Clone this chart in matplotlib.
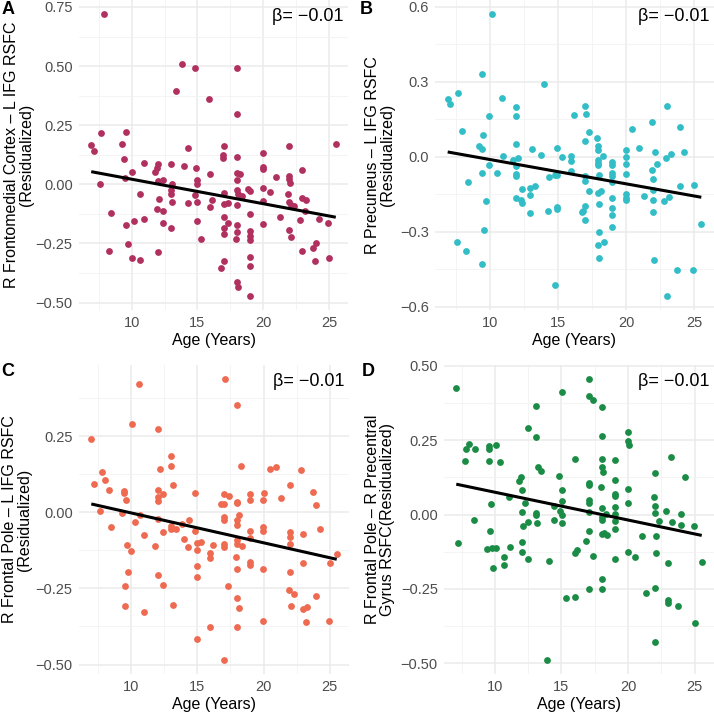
import numpy as np
import matplotlib
matplotlib.use("Agg")
import matplotlib.pyplot as plt

plt.rcParams['font.family'] = ['Liberation Sans', 'DejaVu Sans']

# ---------------- data (age, residualized RSFC) ----------------
points_a = [(7.93,0.72),(6.93,0.167),(7.13,0.141),(7.7,0.219),(7.6,0.0),(8.4,-0.123),(8.3,-0.28),(9.27,0.171),(9.55,0.22),(9.4,0.107),(9.47,0.028),(10.0,0.052),(9.6,-0.174),(9.7,-0.254),(10.0,-0.312),(10.2,-0.157),(10.6,-0.042),(10.6,-0.319),(10.96,-0.145),(10.96,0.09),(11.8,0.054),(11.9,0.068),(12.0,0.086),(12.0,0.014),(12.1,-0.064),(11.96,-0.106),(12.4,0.017),(12.37,-0.114),(12.37,-0.164),(12.0,-0.288),(12.97,0.085),(12.97,-0.023),(12.97,-0.042),(13.1,0.003),(13.1,-0.075),(12.97,-0.184),(13.4,0.394),(13.8,0.508),(13.95,0.078),(14.3,0.154),(14.3,-0.078),(14.8,0.49),(14.9,0.068),(14.96,0.017),(14.96,0.003),(14.84,-0.044),(14.96,-0.075),(14.96,-0.154),(15.26,-0.233),(15.9,0.359),(15.94,0.042),(16.1,-0.066),(15.94,-0.097),(16.78,-0.352),(16.98,-0.323),(17.05,0.16),(16.95,0.124),(16.95,0.113),(17.0,-0.035),(17.0,-0.083),(17.05,-0.138),(17.0,-0.184),(17.0,-0.21),(17.33,-0.08),(17.33,-0.162),(17.98,0.493),(17.98,0.298),(17.98,0.117),(17.98,0.049),(17.98,0.017),(18.2,0.044),(18.0,-0.025),(18.1,-0.04),(17.98,-0.086),(17.98,-0.174),(17.98,-0.2),(17.9,-0.232),(18.36,-0.049),(18.87,-0.02),(19.0,-0.03),(19.0,-0.124),(19.0,-0.198),(19.0,-0.217),(19.0,-0.236),(19.0,-0.306),(19.0,-0.345),(17.98,-0.412),(18.1,-0.436),(19.0,-0.472),(19.95,0.131),(19.95,0.075),(19.95,0.064),(19.95,-0.017),(19.95,-0.072),(20.0,-0.169),(20.48,-0.032),(20.96,0.032),(21.3,-0.137),(21.96,0.16),(21.96,0.037),(21.96,0.023),(22.0,0.004),(21.9,-0.041),(21.94,-0.076),(22.1,-0.086),(22.34,-0.09),(21.96,-0.193),(22.1,-0.223),(22.97,0.062),(22.95,-0.058),(23.27,-0.066),(23.15,-0.112),(22.8,-0.153),(22.97,-0.28),(23.98,-0.249),(23.75,-0.268),(23.9,-0.325),(24.23,-0.147),(24.9,-0.162),(24.98,-0.311),(25.5,0.171)]

points_b = [(6.89,0.23),(7.08,0.212),(7.67,0.253),(7.92,0.102),(7.6,-0.341),(8.26,-0.376),(8.36,-0.103),(9.41,0.331),(9.22,0.044),(9.41,0.031),(9.51,0.087),(9.39,-0.066),(9.68,-0.176),(9.58,-0.292),(9.39,-0.43),(9.93,0.161),(9.93,-0.032),(10.17,0.57),(10.51,-0.065),(10.9,0.235),(10.93,0.004),(11.91,0.198),(11.94,0.164),(11.91,0.051),(11.72,-0.013),(12.08,-0.007),(11.91,-0.036),(11.91,-0.069),(11.94,-0.079),(11.94,-0.164),(12.25,-0.173),(12.38,-0.187),(12.38,-0.13),(12.94,-0.125),(12.92,-0.153),(12.94,-0.224),(13.11,0.031),(13.33,-0.116),(13.75,0.007),(13.95,0.29),(14.29,-0.218),(14.34,-0.082),(14.78,-0.075),(14.9,0.035),(14.93,-0.075),(14.93,-0.2),(14.93,-0.21),(14.78,-0.515),(15.25,-0.003),(15.96,0.004),(15.96,-0.016),(15.96,-0.056),(16.13,0.167),(16.74,-0.223),(16.86,-0.218),(16.96,0.202),(17.01,0.172),(16.94,0.062),(16.96,-0.079),(16.96,-0.098),(16.96,-0.196),(16.96,-0.255),(17.3,0.097),(17.28,-0.136),(17.84,0.075),(17.92,0.043),(17.92,0.027),(17.92,-0.013),(17.92,-0.027),(17.92,-0.034),(18.01,-0.075),(17.89,-0.144),(18.16,-0.137),(17.97,-0.191),(17.97,-0.301),(17.92,-0.355),(18.36,-0.341),(17.97,-0.406),(18.26,0.001),(18.97,-0.022),(18.97,-0.034),(18.97,-0.065),(18.97,-0.077),(18.97,-0.102),(18.97,-0.165),(18.97,-0.204),(18.97,-0.235),(18.97,-0.282),(19.95,0.028),(19.95,-0.001),(19.95,-0.03),(19.95,-0.07),(19.95,-0.151),(19.95,-0.164),(19.95,-0.173),(20.44,0.11),(20.96,0.036),(21.27,-0.156),(21.89,0.137),(22.08,0.02),(21.86,-0.054),(21.96,-0.089),(22.28,-0.031),(21.94,-0.134),(21.96,-0.173),(21.96,-0.223),(22.03,-0.413),(22.79,-0.176),(22.97,0.203),(22.94,-0.005),(23.28,0.009),(23.16,-0.163),(22.97,-0.557),(23.95,0.12),(24.24,0.019),(23.92,-0.117),(23.73,-0.452),(24.95,-0.114),(24.9,-0.452),(25.51,-0.269)]

points_c = [(6.98,0.242),(7.19,0.092),(7.76,0.133),(7.99,0.105),(7.66,0.004),(8.34,0.074),(8.44,-0.048),(9.32,-0.003),(9.45,0.07),(9.45,0.062),(9.6,0.039),(9.67,-0.108),(10.0,-0.126),(9.75,-0.195),(9.52,-0.243),(9.52,-0.307),(10.03,0.289),(10.28,-0.033),(10.6,0.423),(10.63,-0.008),(11.0,-0.075),(11.0,-0.327),(11.81,-0.11),(12.0,0.274),(12.0,0.075),(12.0,0.051),(12.0,0.037),(12.0,-0.023),(12.0,-0.205),(12.16,0.143),(12.41,0.061),(12.39,-0.066),(12.41,-0.24),(13.02,0.186),(13.02,0.151),(13.17,0.09),(13.02,-0.046),(12.99,-0.054),(13.42,-0.056),(13.12,-0.304),(13.82,-0.038),(13.99,-0.088),(14.35,-0.024),(14.32,-0.113),(14.82,0.065),(14.85,-0.062),(15.0,-0.102),(15.0,-0.124),(15.3,-0.098),(15.0,-0.177),(15.0,-0.213),(15.0,-0.417),(15.98,-0.132),(15.98,-0.15),(16.16,-0.108),(15.98,-0.376),(17.09,0.438),(16.98,0.061),(17.36,0.053),(16.76,0.028),(16.98,0.026),(16.98,-0.016),(16.98,-0.026),(16.98,-0.103),(16.98,-0.113),(17.31,-0.242),(16.98,-0.485),(17.99,0.354),(18.32,0.151),(17.99,0.034),(17.99,0.03),(18.17,-0.009),(17.99,-0.025),(17.99,-0.04),(17.99,-0.092),(17.99,-0.103),(18.37,-0.109),(17.89,-0.146),(17.99,-0.186),(17.99,-0.281),(18.12,-0.315),(17.99,-0.376),(18.97,0.059),(18.97,0.039),(18.97,-0.062),(18.97,-0.084),(18.97,-0.162),(18.97,-0.173),(20.0,0.065),(19.95,0.04),(19.97,-0.049),(19.97,-0.06),(19.97,-0.185),(19.97,-0.357),(20.48,0.141),(20.95,0.149),(21.31,0.046),(22.01,0.089),(22.01,-0.066),(22.01,-0.08),(22.01,-0.105),(21.98,-0.196),(21.91,-0.254),(22.11,-0.309),(22.31,-0.267),(22.81,0.138),(22.99,-0.07),(22.99,-0.165),(22.96,-0.316),(23.29,-0.312),(23.19,-0.361),(23.74,0.066),(23.99,0.024),(24.25,-0.055),(23.99,-0.275),(24.92,-0.356),(25.0,-0.168),(25.53,-0.138)]

points_d = [(7.1,0.426),(7.25,-0.096),(7.75,0.179),(7.85,0.221),(8.08,0.237),(8.5,0.221),(8.43,-0.017),(9.53,0.23),(9.55,0.221),(9.53,0.179),(9.68,0.037),(9.6,-0.056),(9.38,-0.116),(9.78,-0.113),(10.1,-0.113),(9.83,-0.178),(10.08,0.233),(10.35,0.177),(10.65,-0.142),(10.68,-0.17),(11.1,-0.109),(11.05,0.06),(11.83,0.113),(11.98,0.125),(12.05,0.083),(12.05,0.009),(12.1,-0.039),(12.05,-0.091),(12.05,-0.125),(12.23,0.039),(12.45,0.291),(12.5,-0.024),(12.5,-0.148),(13.08,0.364),(13.05,0.262),(13.25,0.159),(13.48,0.146),(13.08,0.006),(13.08,0.0),(13.15,-0.029),(13.9,-0.489),(14.05,-0.157),(14.45,-0.018),(14.43,0.03),(15.05,0.412),(14.85,0.129),(15.05,0.084),(15.05,0.047),(14.9,0.012),(15.05,0.0),(15.05,-0.029),(15.35,-0.279),(16.05,0.187),(16.18,-0.118),(16.05,-0.129),(16.05,-0.277),(17.03,0.456),(17.03,0.399),(17.4,0.384),(17.03,0.106),(17.03,0.1),(17.03,0.05),(17.03,0.039),(17.03,0.008),(17.1,-0.054),(16.83,-0.09),(17.38,-0.14),(17.03,-0.251),(18.03,0.361),(18.03,0.265),(18.03,0.187),(18.03,0.159),(18.15,0.143),(17.93,0.094),(18.03,0.022),(18.03,-0.008),(18.03,-0.017),(18.33,0.003),(18.03,-0.065),(18.2,-0.062),(18.4,-0.067),(18.03,-0.218),(18.03,-0.251),(19.03,0.183),(19.03,0.118),(19.03,0.068),(19.03,0.062),(19.03,0.024),(19.03,0.001),(19.03,-0.021),(19.03,-0.048),(19.03,-0.148),(20.03,0.277),(20.03,0.249),(20.08,0.233),(20.03,0.087),(20.03,0.039),(20.03,-0.127),(20.53,-0.142),(21.03,-0.073),(21.33,-0.263),(22.03,0.14),(21.95,0.058),(22.03,0.03),(22.05,0.007),(22.13,-0.071),(22.13,-0.128),(22.03,-0.246),(22.03,-0.428),(22.33,-0.02),(22.83,0.013),(23.2,0.194),(23.03,-0.162),(23.03,-0.286),(23.03,-0.298),(23.33,-0.024),(23.75,-0.307),(24.0,0.003),(24.0,-0.034),(24.28,0.125),(24.93,-0.04),(25.0,-0.363),(25.53,-0.158)]

panel_letters = ["A", "B", "C", "D"]
y_titles = ["R Frontomedial Cortex \u2013 L IFG RSFC\n(Residualized)",
            "R Precuneus \u2013 L IFG RSFC\n(Residualized)",
            "R Frontal Pole \u2013 L IFG RSFC\n(Residualized)",
            "R Frontal Pole \u2013 R Precentral\nGyrus RSFC(Residualized)"]
x_title = "Age (Years)"
beta_labels = ["\u03b2= \u22120.01"] * 4
colors = ["#B03060", "#33BDC6", "#EE6A50", "#1A8C45"]
x_ticks = [10, 15, 20, 25]
y_ticks = [[-0.5, -0.25, 0.0, 0.25, 0.5, 0.75],
           [-0.6, -0.3, 0.0, 0.3, 0.6],
           [-0.5, -0.25, 0.0, 0.25, 0.5],
           [-0.5, -0.25, 0.0, 0.25, 0.5]]
y_decimals = [2, 1, 2, 2]

# ---------------- layout (pixels, top-left origin) ----------------
W = H = 714
# left, right, top, bottom of each plotting panel
panel_px = [(79, 348, 0, 310), (435, 714, 0, 310),
            (79, 349, 365, 674), (444, 714, 365, 674)]
ylab_x = [19, 380, 17, 380]
letter_xy = [(8, 9), (366, 9), (8, 371), (368, 372)]

fig = plt.figure(figsize=(W / 100, H / 100), dpi=100)
fig.patch.set_facecolor("white")

all_points = [points_a, points_b, points_c, points_d]
for i, pts in enumerate(all_points):
    l, r, t, b = panel_px[i]
    ax = fig.add_axes([l / W, 1 - b / H, (r - l) / W, (b - t) / H])
    arr = np.array(pts)
    x, y = arr[:, 0], arr[:, 1]
    ax.scatter(x, y, s=24, color=colors[i], linewidths=0, zorder=3)
    slope, intercept = np.polyfit(x, y, 1)
    xs = np.array([x.min(), x.max()])
    ax.plot(xs, intercept + slope * xs, color="black", lw=2.2, zorder=4,
            solid_capstyle="butt")
    ax.margins(0.05)
    ax.autoscale_view()
    xl, yl = ax.get_xlim(), ax.get_ylim()
    ax.set_xticks(x_ticks)
    ax.set_xticks([t - 2.5 for t in x_ticks] + [x_ticks[-1] + 2.5], minor=True)
    yt = y_ticks[i]
    step = yt[1] - yt[0]
    ax.set_yticks(yt)
    ax.set_yticklabels([f"{v:.{y_decimals[i]}f}".replace("-", "\u2212") for v in yt])
    ax.set_yticks([v - step / 2 for v in yt] + [yt[-1] + step / 2], minor=True)
    ax.set_xlim(xl)
    ax.set_ylim(yl)
    ax.grid(which="major", color="#EBEBEB", lw=1.1, zorder=0)
    ax.grid(which="minor", color="#F2F2F2", lw=0.6, zorder=0)
    ax.set_axisbelow(True)
    for s in ax.spines.values():
        s.set_visible(False)
    ax.tick_params(which="both", length=0, labelsize=10.5, labelcolor="#4D4D4D", pad=4.5)
    ax.set_xlabel(x_title, fontsize=11.5, color="black", labelpad=2)
    ax.text(0.985, 0.975, beta_labels[i], transform=ax.transAxes, ha="right",
            va="top", fontsize=13, color="black")
    # y title
    fig.text(ylab_x[i] / W, 1 - (t + b) / 2 / H, y_titles[i], rotation=90,
             ha="center", va="center", multialignment="center", fontsize=11.5,
             linespacing=1.05)
    lx, ly = letter_xy[i]
    fig.text(lx / W, 1 - ly / H, panel_letters[i], ha="center", va="center",
             fontsize=13, fontweight="bold")

fig.savefig("out.png", dpi=100, facecolor="white")
